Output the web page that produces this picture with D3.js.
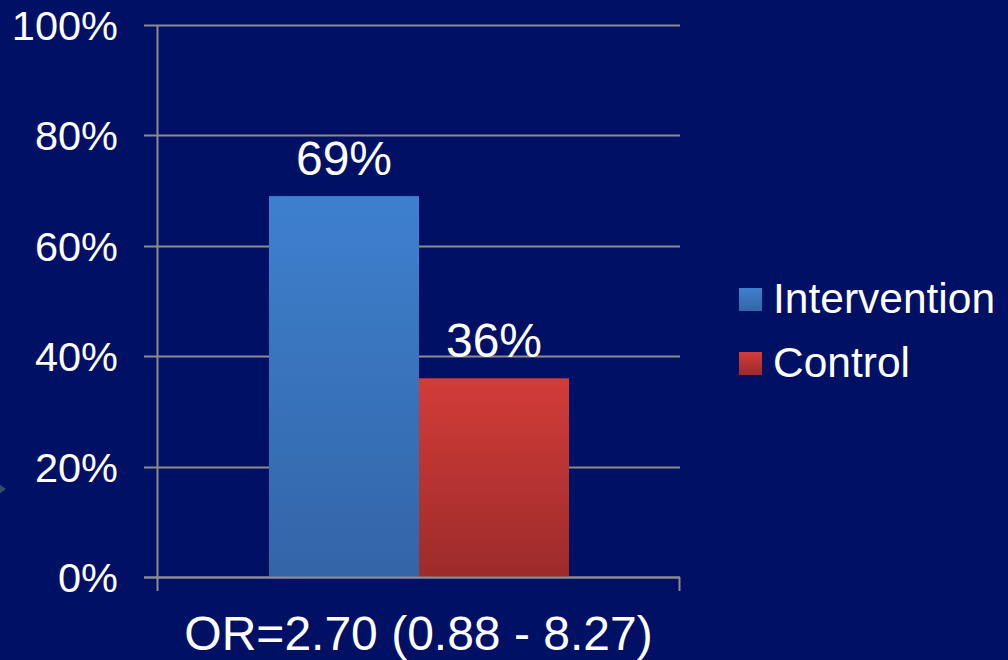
<!DOCTYPE html>
<html>
<head>
<meta charset="utf-8">
<script src="https://cdn.jsdelivr.net/npm/d3@7"></script>
<style>
  html, body { margin: 0; padding: 0; background: #001064; }
  svg { display: block; }
  text { font-family: "Liberation Sans", Arial, sans-serif; fill: #ffffff; }
</style>
</head>
<body>
<svg id="chart" width="1008" height="660"></svg>
<script>
// Data
const categories = ["OR=2.70 (0.88 - 8.27)"];
const seriesNames = ["Intervention", "Control"];
const interventionValues = [69];
const controlValues = [36];
const tickValues = [0, 20, 40, 60, 80, 100];

const seriesValues = [interventionValues, controlValues];
const seriesGradients = [
  { id: "gradBlue", top: "#3e80ce", bottom: "#3365a8" },
  { id: "gradRed", top: "#d33c39", bottom: "#9c2b2a" }
];

const svg = d3.select("#chart");
const margin = { left: 157, right: 328, top: 25, bottom: 83 };
const W = 1008, H = 660;
const plotW = W - margin.left - margin.right;
const plotH = H - margin.top - margin.bottom;

const defs = svg.append("defs");
seriesGradients.forEach(g => {
  const lg = defs.append("linearGradient")
    .attr("id", g.id).attr("x1", 0).attr("y1", 0).attr("x2", 0).attr("y2", 1);
  lg.append("stop").attr("offset", "0%").attr("stop-color", g.top);
  lg.append("stop").attr("offset", "100%").attr("stop-color", g.bottom);
});

// small decorative marker at the left edge
svg.append("path")
  .attr("d", "M-5,481 L6,489 L-5,497 Z")
  .attr("fill", "#3a4c6c");

const g = svg.append("g").attr("transform", `translate(${margin.left},${margin.top})`);

const x = d3.scaleBand().domain(categories).range([0, plotW]).paddingInner(0).paddingOuter(0);
const xInner = d3.scaleBand().domain(seriesNames)
  .range([112, x.bandwidth() - 111]).padding(0);
const y = d3.scaleLinear().domain([0, 100]).range([plotH, 0]);

// Horizontal gridlines with left tick stubs
const gridColor = "#8c8c8c";
g.append("g").selectAll("line").data(tickValues).join("line")
  .attr("x1", -13).attr("x2", plotW)
  .attr("y1", d => Math.round(y(d)) + 0.5).attr("y2", d => Math.round(y(d)) + 0.5)
  .attr("stroke", gridColor).attr("stroke-width", 2);

// Y tick labels
g.append("g").selectAll("text").data(tickValues).join("text")
  .attr("x", -39).attr("y", d => y(d) + 15)
  .attr("text-anchor", "end")
  .attr("font-size", 41.5)
  .text(d => d + "%");

// Bars
categories.forEach((cat, ci) => {
  seriesNames.forEach((s, si) => {
    const v = seriesValues[si][ci];
    g.append("rect")
      .attr("x", x(cat) + xInner(s))
      .attr("y", y(v))
      .attr("width", xInner.bandwidth())
      .attr("height", y(0) - y(v))
      .attr("fill", `url(#${seriesGradients[si].id})`);
    g.append("text")
      .attr("x", x(cat) + xInner(s) + xInner.bandwidth() / 2)
      .attr("y", y(v) - 21)
      .attr("text-anchor", "middle")
      .attr("font-size", 48)
      .text(v + "%");
  });
});

// Baseline redrawn on top of bars
g.append("line")
  .attr("x1", -13).attr("x2", plotW)
  .attr("y1", Math.round(y(0)) + 0.5).attr("y2", Math.round(y(0)) + 0.5)
  .attr("stroke", gridColor).attr("stroke-width", 2);

// Vertical axis line and category boundary ticks
g.append("line")
  .attr("x1", 0.5).attr("x2", 0.5).attr("y1", 0).attr("y2", plotH + 14)
  .attr("stroke", gridColor).attr("stroke-width", 2);
g.append("line")
  .attr("x1", plotW - 0.5).attr("x2", plotW - 0.5).attr("y1", plotH).attr("y2", plotH + 14)
  .attr("stroke", gridColor).attr("stroke-width", 2);

// Category label
g.append("text")
  .attr("x", x(categories[0]) + x.bandwidth() / 2)
  .attr("y", plotH + 73)
  .attr("text-anchor", "middle")
  .attr("font-size", 48)
  .text(categories[0]);

// Legend
const legend = svg.append("g").attr("transform", "translate(739,288)");
seriesNames.forEach((s, i) => {
  const row = legend.append("g").attr("transform", `translate(0,${i * 64})`);
  row.append("rect").attr("width", 23).attr("height", 23)
    .attr("fill", `url(#${seriesGradients[i].id})`);
  row.append("text").attr("x", 34).attr("y", 25)
    .attr("font-size", 42.5).text(s);
});
</script>
</body>
</html>
